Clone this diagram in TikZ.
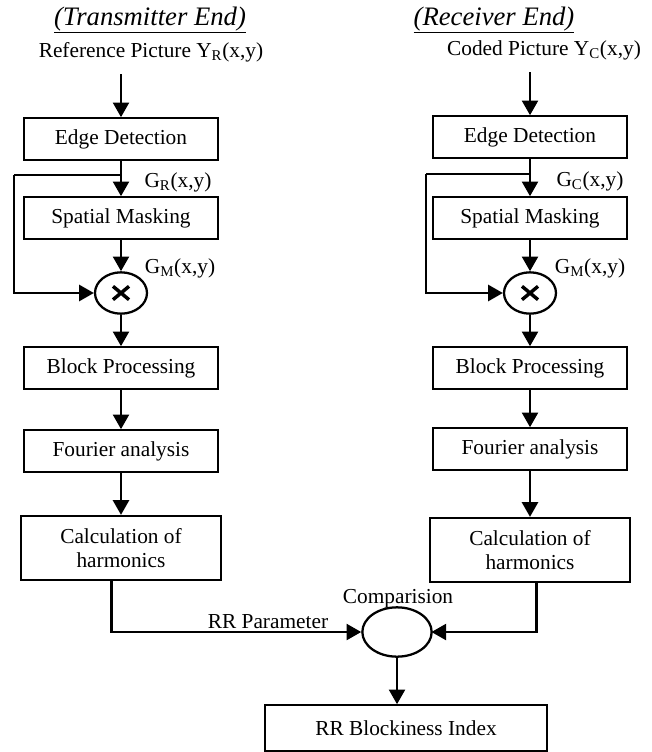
\documentclass[tikz,border=0pt]{standalone}
\usepackage{fontspec}
\setmainfont{Liberation Serif}
\usetikzlibrary{shapes.geometric, arrows.meta, positioning, calc}
\tikzset{
  bd/box/.style={rectangle, draw=black, fill=white, line width=1.7pt,
    minimum width=145pt, minimum height=31pt,
    font=\fontsize{16}{18}\selectfont, align=center, inner sep=2pt},
  bd/tall/.style={bd/box, minimum width=150pt, minimum height=48pt},
  bd/wide/.style={bd/box, minimum width=211pt, minimum height=34pt},
  bd/mul/.style={ellipse, draw=black, line width=1.7pt,
    minimum width=39pt, minimum height=31pt, inner sep=0pt,
    path picture={
      \draw[line width=2.6pt]
        ($(path picture bounding box.center)+(-6pt,-5pt)$) --
        ($(path picture bounding box.center)+(6pt,5pt)$)
        ($(path picture bounding box.center)+(-6pt,5pt)$) --
        ($(path picture bounding box.center)+(6pt,-5pt)$);}},
  bd/cmp/.style={ellipse, draw=black, line width=1.7pt,
    minimum width=52pt, minimum height=37pt, inner sep=0pt},
  bd/arr/.style={-{Triangle[length=11pt,width=12pt]}, line width=1.8pt},
  bd/wire/.style={line width=1.8pt},
  bd/lbl/.style={font=\fontsize{16}{18}\selectfont, inner sep=1pt},
  bd/head/.style={font=\fontsize{20}{24}\selectfont\itshape, inner sep=1pt}
}

\begin{document}
\begin{tikzpicture}[x=0.75pt, y=-0.75pt]
  \useasboundingbox (0,0) rectangle (651,752);

  % Cabeceras
  \node[bd/head] at (150, 20)  (hT)   {\underline{(Transmitter End)}};
  \node[bd/head] at (494, 20)  (hR)   {\underline{(Receiver End)}};
  \node[bd/lbl]  at (151, 52)  (inT)  {Reference Picture Y\textsubscript{R}(x,y)};
  \node[bd/lbl]  at (544, 50)  (inR)  {Coded Picture Y\textsubscript{C}(x,y)};

  % Columna izquierda (transmisor)
  \node[bd/box]  at (121, 139) (edL)  {Edge Detection};
  \node[bd/box]  at (121, 218) (smL)  {Spatial Masking};
  \node[bd/mul]  at (121, 293) (mulL) {};
  \node[bd/box]  at (121, 368) (bpL)  {Block Processing};
  \node[bd/box]  at (121, 451) (faL)  {Fourier analysis};
  \node[bd/tall] at (121, 548) (chL)  {Calculation of\\harmonics};
  \node[bd/lbl]  at (178, 182) (gR)   {G\textsubscript{R}(x,y)};
  \node[bd/lbl]  at (180, 268) (gmL)  {G\textsubscript{M}(x,y)};
  \coordinate (brL) at (121, 175);
  \coordinate (fbL) at (14, 175);

  % Columna derecha (receptor)
  \node[bd/box]  at (530, 137) (edR)  {Edge Detection};
  \node[bd/box]  at (530, 218) (smR)  {Spatial Masking};
  \node[bd/mul]  at (530, 293) (mulR) {};
  \node[bd/box]  at (530, 368) (bpR)  {Block Processing};
  \node[bd/box]  at (530, 449) (faR)  {Fourier analysis};
  \node[bd/tall] at (530, 550) (chR)  {Calculation of\\harmonics};
  \node[bd/lbl]  at (590, 181) (gC)   {G\textsubscript{C}(x,y)};
  \node[bd/lbl]  at (590, 268) (gmR)  {G\textsubscript{M}(x,y)};
  \coordinate (brR) at (530, 174);
  \coordinate (fbR) at (426, 174);

  % Comparacion y salida
  \node[bd/cmp]  at (397, 632) (cmp)  {};
  \node[bd/lbl]  at (398, 599) (cmpL) {Comparision};
  \node[bd/lbl]  at (268, 622) (rrp)  {RR Parameter};
  \node[bd/wide] at (406, 728) (rrb)  {RR Blockiness Index};

  % --- Flujo izquierdo ---
  \draw[bd/arr] (edL.north |- inT.south) ++(0,11) -- (edL.north);
  \draw[bd/arr] (edL) -- (smL);
  \draw[bd/wire] (brL) -- (fbL);
  \draw[bd/arr] (fbL) |- (mulL.west);
  \draw[bd/arr] (smL) -- (mulL);
  \draw[bd/arr] (mulL) -- (bpL);
  \draw[bd/arr] (bpL) -- (faL);
  \draw[bd/arr] (faL) -- (chL);

  % --- Flujo derecho ---
  \draw[bd/arr] (edR.north |- inR.south) ++(0,11) -- (edR.north);
  \draw[bd/arr] (edR) -- (smR);
  \draw[bd/wire] (brR) -- (fbR);
  \draw[bd/arr] (fbR) |- (mulR.west);
  \draw[bd/arr] (smR) -- (mulR);
  \draw[bd/arr] (mulR) -- (bpR);
  \draw[bd/arr] (bpR) -- (faR);
  \draw[bd/arr] (faR) -- (chR);

  % --- Comparacion ---
  \draw[bd/arr] ([xshift=-7pt]chL.south) |- (cmp.west);
  \draw[bd/arr] ([xshift=5pt]chR.south) |- ([xshift=-1pt]cmp.east);
  \draw[bd/arr] (cmp.south) -- (cmp.south |- rrb.north);
\end{tikzpicture}
\end{document}
